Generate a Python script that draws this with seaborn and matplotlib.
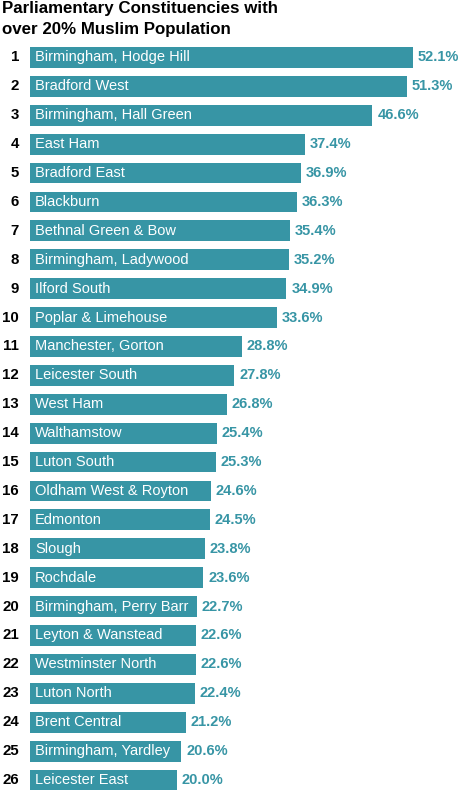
import matplotlib
matplotlib.use("Agg")
import matplotlib.pyplot as plt
import seaborn as sns
import pandas as pd
from matplotlib.transforms import offset_copy

constituencies = [
    "Birmingham, Hodge Hill", "Bradford West", "Birmingham, Hall Green", "East Ham",
    "Bradford East", "Blackburn", "Bethnal Green & Bow", "Birmingham, Ladywood",
    "Ilford South", "Poplar & Limehouse", "Manchester, Gorton", "Leicester South",
    "West Ham", "Walthamstow", "Luton South", "Oldham West & Royton", "Edmonton",
    "Slough", "Rochdale", "Birmingham, Perry Barr", "Leyton & Wanstead",
    "Westminster North", "Luton North", "Brent Central", "Birmingham, Yardley",
    "Leicester East",
]
muslim_pct = [52.1, 51.3, 46.6, 37.4, 36.9, 36.3, 35.4, 35.2, 34.9, 33.6, 28.8, 27.8,
              26.8, 25.4, 25.3, 24.6, 24.5, 23.8, 23.6, 22.7, 22.6, 22.6, 22.4, 21.2,
              20.6, 20.0]
ranks = [str(i + 1) for i in range(len(constituencies))]
title = "Parliamentary Constituencies with\nover 20% Muslim Population"

sns.set_theme(style="white")
plt.rcParams["font.family"] = ["Liberation Sans", "DejaVu Sans"]

W, H = 459, 792
fig = plt.figure(figsize=(W / 100, H / 100), dpi=100)
ax = fig.add_axes([30 / W, 0, 426 / W, 749 / H])

df = pd.DataFrame({"name": constituencies, "pct": muslim_pct})
teal = "#3795a5"
sns.barplot(data=df, x="pct", y="name", orient="h", color=teal, saturation=1,
            width=0.72, ax=ax, edgecolor="none")

ax.set_xlim(0, 58)
ax.set_ylim(25.415, -0.5)
ax.axis("off")

for i, (name, v, r) in enumerate(zip(constituencies, muslim_pct, ranks)):
    ax.text(0, i, name, transform=offset_copy(ax.transData, fig=fig, x=5, y=0, units="dots"),
            ha="left", va="center", color="white", fontsize=10.5)
    ax.text(v, i, f"{v:.1f}%", transform=offset_copy(ax.transData, fig=fig, x=5, y=0, units="dots"),
            ha="left", va="center", color=teal, fontsize=10.5, fontweight="bold")
    ax.text(0, i, r, transform=offset_copy(ax.transData, fig=fig, x=-11, y=0, units="dots"),
            ha="right", va="center", color="black", fontsize=10.8, fontweight="bold")

fig.text(2 / W, 1 - 1 / H, title, ha="left", va="top", fontsize=12.2, fontweight="bold",
         color="black", linespacing=1.5)

fig.savefig("out.png", dpi=100)
